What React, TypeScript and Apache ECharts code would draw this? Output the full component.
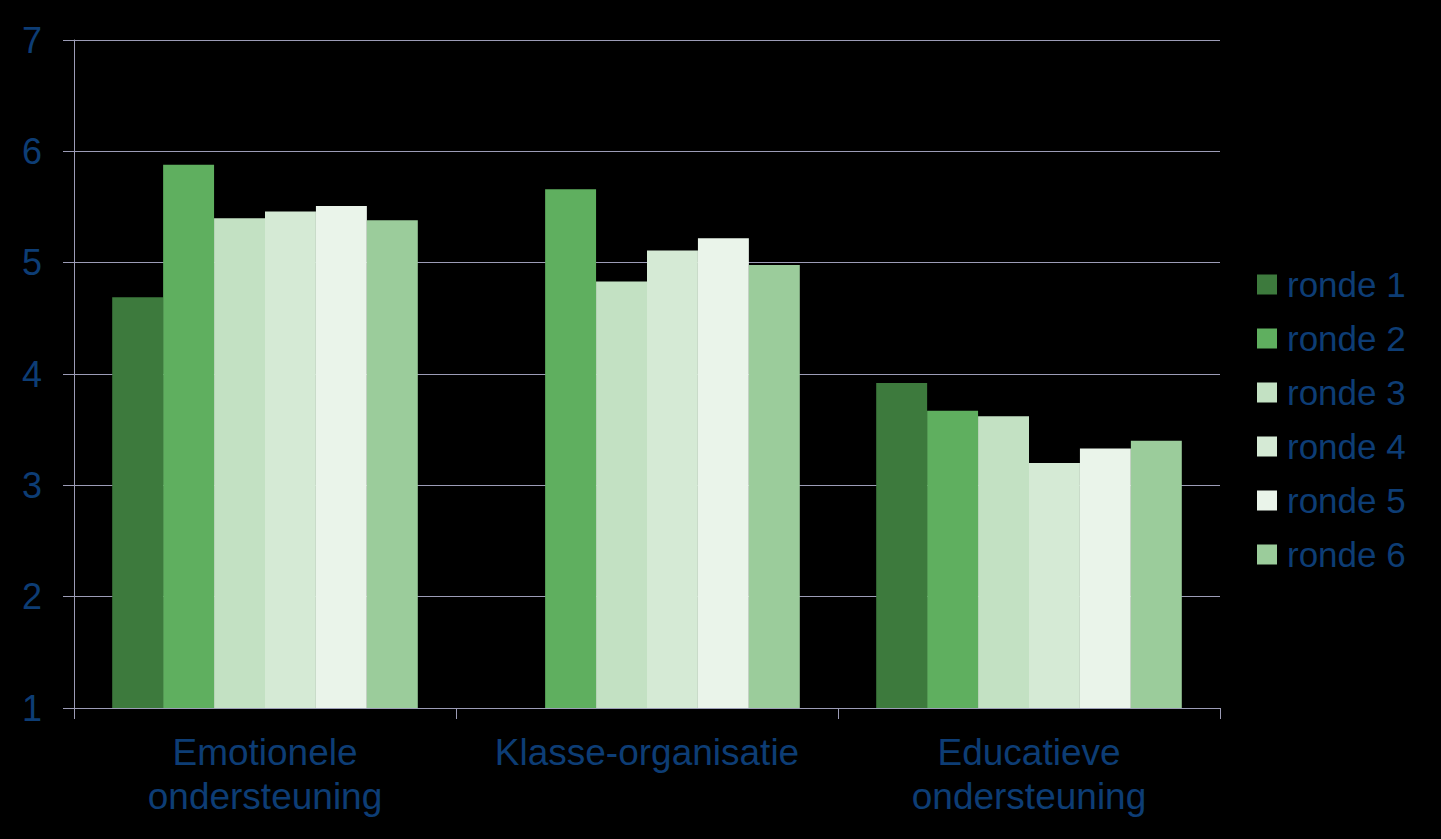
import React, { useEffect, useRef } from "react";
import * as echarts from "echarts";

const categories = ["Emotionele\nondersteuning", "Klasse-organisatie", "Educatieve\nondersteuning"];
const seriesNames = ["ronde 1", "ronde 2", "ronde 3", "ronde 4", "ronde 5", "ronde 6"];
const ronde1 = [4.69, null, 3.92];
const ronde2 = [5.88, 5.66, 3.67];
const ronde3 = [5.4, 4.83, 3.62];
const ronde4 = [5.46, 5.11, 3.2];
const ronde5 = [5.51, 5.22, 3.33];
const ronde6 = [5.38, 4.98, 3.4];
const seriesValues = [ronde1, ronde2, ronde3, ronde4, ronde5, ronde6];
const colors = ["#3d7a3d", "#5faf5f", "#c3e1c3", "#d5ead5", "#eaf4ea", "#9bcc9b"];
const yTicks = [1, 2, 3, 4, 5, 6, 7];

const textColor = "#0d3d75";
const lineColor = "#9c9cb6";
const font = "'Liberation Sans', Arial, sans-serif";

export default function App() {
  const ref = useRef<HTMLDivElement>(null);
  useEffect(() => {
    if (!ref.current) return;
    const chart = echarts.init(ref.current, undefined, { renderer: "svg" });
    chart.setOption({
      animation: false,
      backgroundColor: "#000000",
      grid: { left: 74, right: 221, top: 40, bottom: 131, containLabel: false },
      legend: {
        orient: "vertical",
        left: 1252,
        top: 262,
        itemWidth: 20,
        itemHeight: 20,
        itemGap: 19,
        icon: "rect",
        data: seriesNames,
        textStyle: { color: textColor, fontSize: 35, fontFamily: font, lineHeight: 35, padding: [0, 0, 0, 5] },
      },
      xAxis: {
        type: "category",
        data: categories,
        axisLine: { show: true, lineStyle: { color: lineColor, width: 1 } },
        axisTick: { show: true, length: 11, inside: false, interval: 0, lineStyle: { color: lineColor } },
        axisLabel: { color: textColor, fontSize: 37, fontFamily: font, lineHeight: 44, margin: 22, interval: 0 },
        splitLine: { show: false },
      },
      yAxis: {
        type: "value",
        min: yTicks[0],
        max: yTicks[yTicks.length - 1],
        interval: 1,
        axisLine: { show: true, lineStyle: { color: lineColor, width: 1 } },
        axisTick: { show: true, length: 11, lineStyle: { color: lineColor } },
        axisLabel: { color: textColor, fontSize: 36, fontFamily: font, margin: 32 },
        splitLine: { show: true, lineStyle: { color: lineColor, width: 1 } },
      },
      series: seriesNames.map((name, i) => ({
        name,
        type: "bar",
        data: seriesValues[i],
        barGap: "0%",
        barCategoryGap: "20%",
        itemStyle: { color: colors[i] },
      })),
    });
    return () => chart.dispose();
  }, []);
  return (
    <div
      ref={ref}
      style={{ position: "fixed", left: 0, top: 0, width: 1441, height: 839, background: "#000" }}
    />
  );
}
